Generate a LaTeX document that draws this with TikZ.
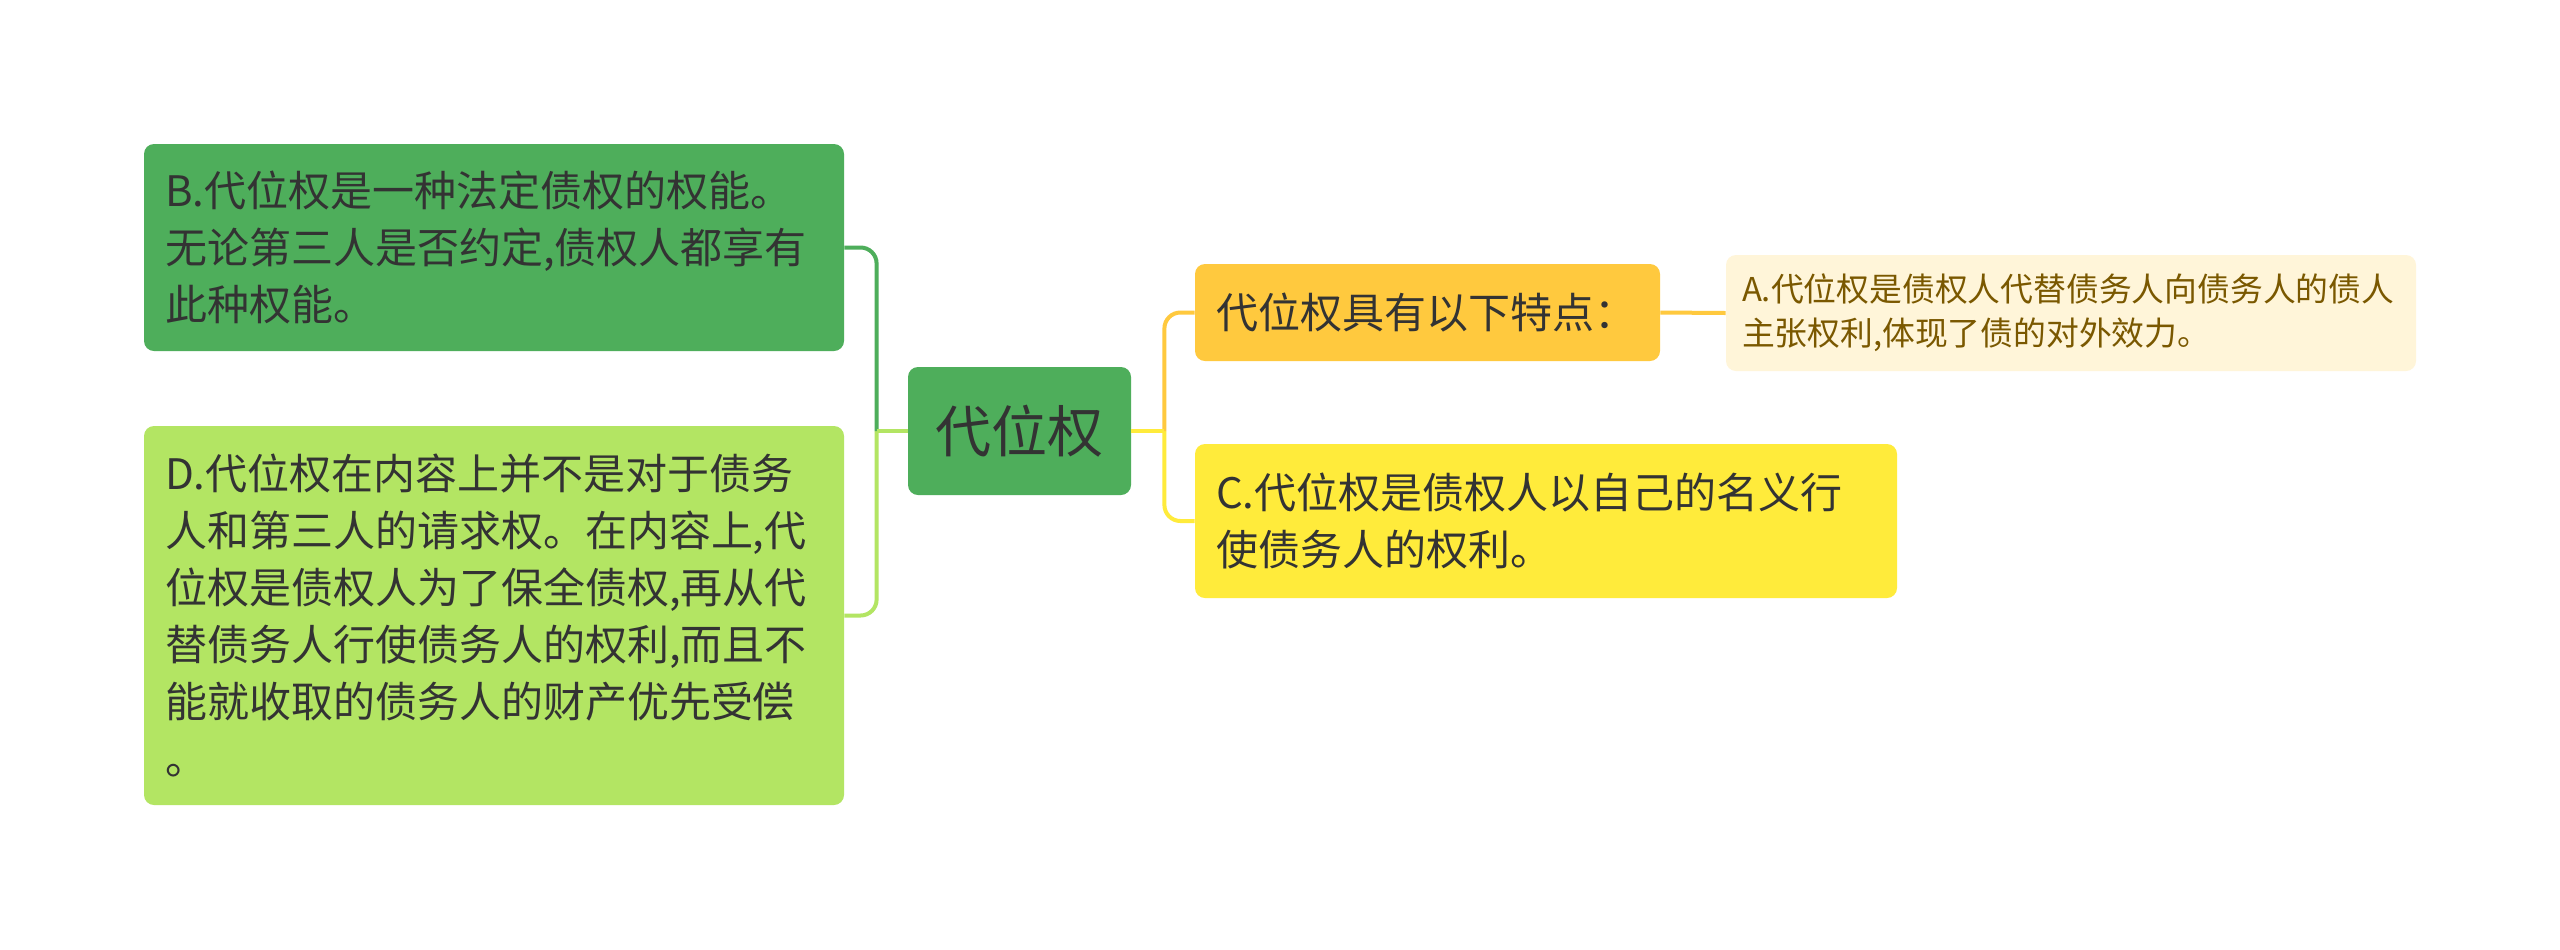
\documentclass[tikz,border=0pt]{standalone}
\usepackage{fontspec}
\setmainfont{Noto Sans CJK SC}
\usepackage{tikz}
\definecolor{rootgreen}{HTML}{4EAE5B}
\definecolor{leafgreen}{HTML}{B3E563}
\definecolor{amber}{HTML}{FFC93E}
\definecolor{cream}{HTML}{FFF5D9}
\definecolor{lemon}{HTML}{FFEB3B}
\definecolor{ink}{HTML}{333333}
\definecolor{brownink}{HTML}{7A5800}
\tikzset{
  topic/.style={rounded corners=5pt, inner xsep=10.5pt, inner ysep=0pt, align=left, text=ink,
    font=\fontsize{21}{28.5}\selectfont},
  link/.style={line width=2pt, rounded corners=8pt}
}

\begin{document}
\begin{tikzpicture}[x=0.5pt, y=-0.5pt]
\useasboundingbox[fill=white] (0,0) rectangle (2560,949);
% centre and branches
\node[topic, fill=rootgreen, align=center, text width=90.5pt, minimum height=64pt,
  font=\fontsize{28}{34}\selectfont] (root) at (1019.5,431) {代位权};
\node[topic, fill=rootgreen, text width=329pt, minimum height=103.5pt] (bnote) at (494,247.5)
  {B.代位权是一种法定债权的权能。\\无论第三人是否约定,债权人都享有\\此种权能。};
\node[topic, fill=leafgreen, text width=329pt, minimum height=189.5pt] (dnote) at (494,615.5)
  {D.代位权在内容上并不是对于债务\\人和第三人的请求权。在内容上,代\\位权是债权人为了保全债权,再从代\\替债务人行使债务人的权利,而且不\\能就收取的债务人的财产优先受偿\\。};
\node[topic, fill=amber, text width=211.5pt, minimum height=48.5pt] (feat) at (1427.5,312.5)
  {代位权具有以下特点：};
\node[topic, fill=cream, text=brownink, inner xsep=8pt, text width=329pt, minimum height=58pt,
  font=\fontsize{16.4}{22}\selectfont] (anote) at (2071,313)
  {A.代位权是债权人代替债务人向债务人的债人\\主张权利,体现了债的对外效力。};
\node[topic, fill=lemon, text width=330pt, minimum height=77pt] (cnote) at (1546,521)
  {C.代位权是债权人以自己的名义行\\使债务人的权利。};
% connectors
\coordinate (ljoin) at ([xshift=-15.5pt]root.west);
\coordinate (rjoin) at ([xshift=16.5pt]root.east);
\draw[link, leafgreen] (ljoin) |- (dnote.east);
\draw[link, rootgreen] (ljoin) |- (bnote.east);
\draw[link, leafgreen] (root.west) -- (ljoin);
\draw[link, lemon] (rjoin) |- (cnote.west);
\draw[link, amber] (rjoin) |- (feat.west);
\draw[link, lemon] (root.east) -- (rjoin);
\draw[link, amber] (feat.east) -- (anote.west);
\end{tikzpicture}
\end{document}
